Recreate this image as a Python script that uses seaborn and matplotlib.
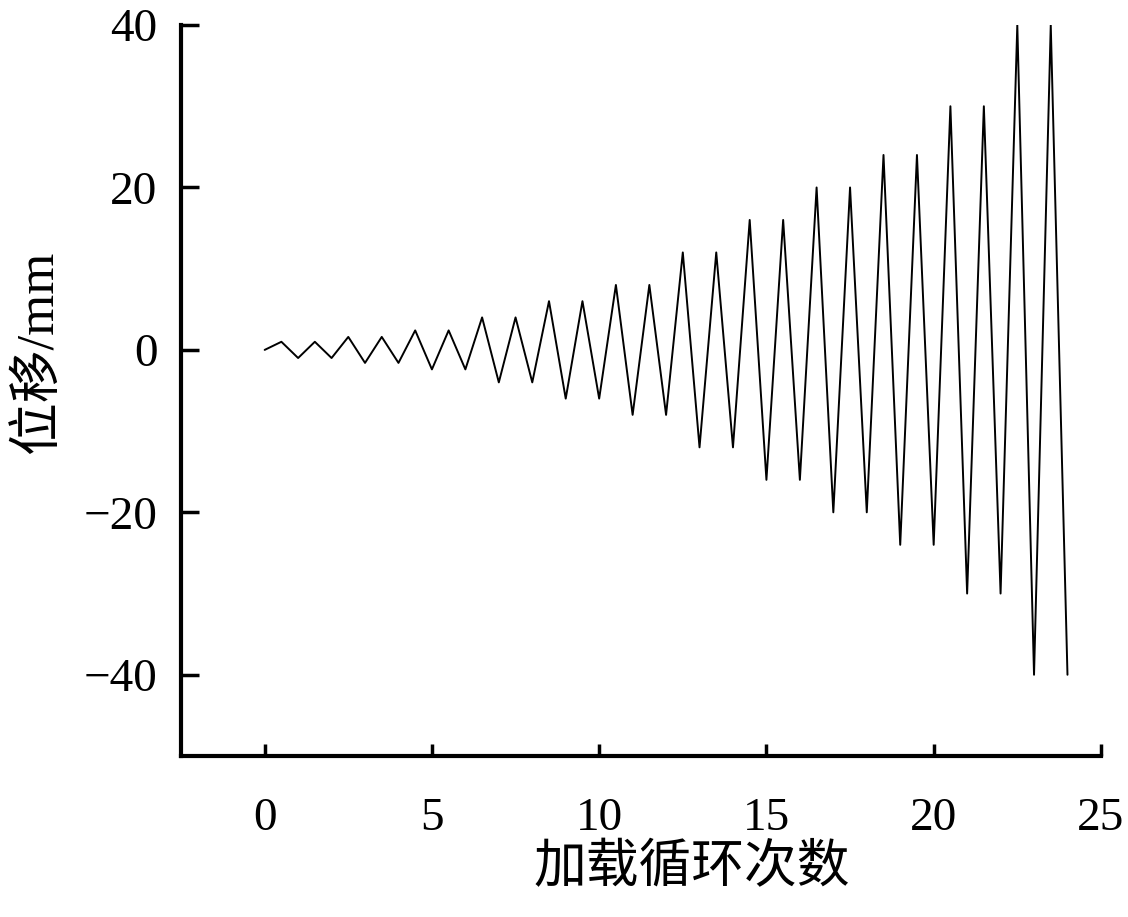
import numpy as np
import pandas as pd
import matplotlib
matplotlib.use("Agg")
import matplotlib.pyplot as plt
import seaborn as sns

# 每级加载的位移幅值 (mm)，每级循环两次
amplitudes = [1, 1.6, 2.4, 4, 6, 8, 12, 16, 20, 24, 30, 40]
x_ticks = [0, 5, 10, 15, 20, 25]
y_ticks = [-40, -20, 0, 20, 40]

# 折线：0 点开始，每半圈到正峰，每整圈到负峰
cycle_amp = [a for a in amplitudes for _ in range(2)]
xs = [0.0]
ys = [0.0]
for k, a in enumerate(cycle_amp):
    xs += [k + 0.5, k + 1.0]
    ys += [a, -a]
df = pd.DataFrame({'加载循环次数': xs, '位移': ys})

sns.set_style('white')
plt.rcParams['font.family'] = ['Liberation Serif', 'Noto Sans CJK SC']
plt.rcParams['axes.unicode_minus'] = True
plt.rcParams['text.color'] = 'black'
plt.rcParams['axes.labelcolor'] = 'black'
plt.rcParams['xtick.color'] = 'black'
plt.rcParams['ytick.color'] = 'black'

fig = plt.figure(figsize=(11.28, 9.17), dpi=100)
ax = fig.add_axes([0.1605, 0.1756, 0.8155, 0.7971])

sns.lineplot(data=df, x='加载循环次数', y='位移', sort=False, estimator=None,
             color='black', linewidth=1.4, ax=ax)

ax.set_xlim(-2.5, 25)
ax.set_ylim(-50, 40)
ax.set_xticks(x_ticks)
ax.set_yticks(y_ticks)

for s in ['top', 'right']:
    ax.spines[s].set_visible(False)
for s in ['left', 'bottom']:
    ax.spines[s].set_linewidth(3)
    ax.spines[s].set_color('black')

ax.tick_params(axis='x', bottom=True, direction='in', length=9, width=2.5, pad=30, labelsize=34)
ax.tick_params(axis='y', left=True, direction='in', length=13, width=2.5, pad=17, labelsize=34)

ax.set_xlabel('加载循环次数', fontsize=38)
ax.set_ylabel('位移/mm', fontsize=38)
ax.xaxis.set_label_coords(0.555, -0.12)
ax.yaxis.set_label_coords(-0.129, 0.553)

fig.savefig('out.png', dpi=100)
